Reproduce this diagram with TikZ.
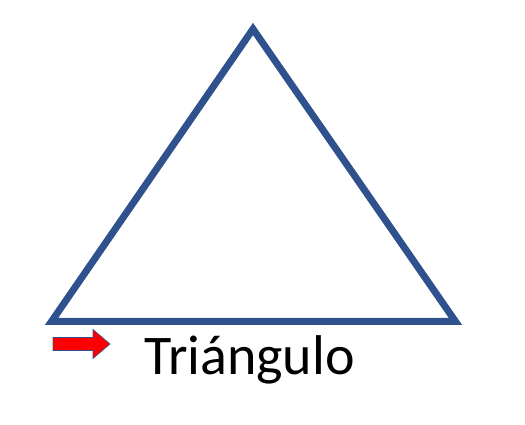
\documentclass[tikz,border=0pt]{standalone}
\usepackage{fontspec}
\setmainfont{Carlito}
\definecolor{triblue}{HTML}{2F528F}
\definecolor{arrred}{HTML}{FF0000}
\begin{document}
\begin{tikzpicture}[x=1pt,y=1pt,
  triline/.style={draw=triblue,line width=7pt,line join=miter},
  redarrow/.style={fill=arrred,draw=triblue,line width=0.6pt,line join=miter},
  label/.style={font=\fontsize{56}{62}\selectfont,inner sep=0pt,anchor=base west}]
\useasboundingbox (0,0) rectangle (525,425);
\coordinate (A) at (253,396);
\coordinate (B) at (51.5,103.5);
\coordinate (C) at (455.5,103.5);
\draw[triline] (A) -- (B) -- (C) -- cycle;
\draw[redarrow] (53,87.5) -- (93,87.5) -- (93,95.5) -- (110,81) -- (93,66.5) -- (93,74.5) -- (53,74.5) -- cycle;
\node[label] (t) at (144,50) {Triángulo};
\end{tikzpicture}
\end{document}
